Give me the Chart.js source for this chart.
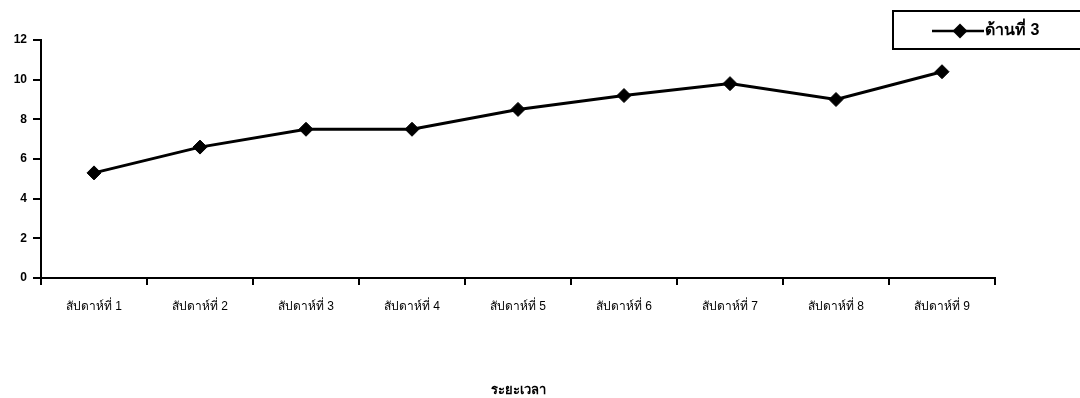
<!DOCTYPE html>
<html>
<head>
<meta charset="utf-8">
<script src="https://cdn.jsdelivr.net/npm/chart.js@4/dist/chart.umd.min.js"></script>
<style>
  html, body { margin: 0; padding: 0; background: #fff; }
  #wrap { width: 1080px; height: 398px; position: relative; }
</style>
</head>
<body>
<div id="wrap"><canvas id="c" width="1080" height="398"></canvas></div>
<script>
// Weekly scores, side 3
const weekLabels = ['สัปดาห์ที่ 1', 'สัปดาห์ที่ 2', 'สัปดาห์ที่ 3', 'สัปดาห์ที่ 4', 'สัปดาห์ที่ 5',
                    'สัปดาห์ที่ 6', 'สัปดาห์ที่ 7', 'สัปดาห์ที่ 8', 'สัปดาห์ที่ 9'];
const side3Values = [5.3, 6.6, 7.5, 7.5, 8.5, 9.2, 9.8, 9.0, 10.4];
const seriesName = 'ด้านที่ 3';
const axisTitle = 'ระยะเวลา';
const yTicks = [0, 2, 4, 6, 8, 10, 12];

const FONT = '"Liberation Sans", Arial, "Noto Sans", sans-serif';

// Boxed legend in the top-right corner
const boxedLegend = {
  id: 'boxedLegend',
  afterDraw(chart) {
    const ctx = chart.ctx;
    const ds = chart.data.datasets[0];
    ctx.save();
    ctx.strokeStyle = '#000';
    ctx.lineWidth = 2;
    ctx.strokeRect(893, 11, 200, 38);
    const ly = 31;
    ctx.lineWidth = 2.5;
    ctx.beginPath();
    ctx.moveTo(932, ly);
    ctx.lineTo(984, ly);
    ctx.stroke();
    const r = 7.5;
    ctx.fillStyle = '#000';
    ctx.beginPath();
    ctx.moveTo(960, ly - r);
    ctx.lineTo(960 + r, ly);
    ctx.lineTo(960, ly + r);
    ctx.lineTo(960 - r, ly);
    ctx.closePath();
    ctx.fill();
    ctx.font = 'bold 16px ' + FONT;
    ctx.textBaseline = 'middle';
    ctx.textAlign = 'left';
    ctx.fillText(ds.label, 985, ly);
    ctx.restore();
  }
};

new Chart(document.getElementById('c'), {
  type: 'line',
  data: {
    labels: weekLabels,
    datasets: [{
      label: seriesName,
      data: side3Values,
      borderColor: '#000',
      backgroundColor: '#000',
      borderWidth: 3,
      pointStyle: 'rectRot',
      pointRadius: 7,
      pointBorderWidth: 1,
      pointBackgroundColor: '#000',
      pointBorderColor: '#000',
      tension: 0,
      fill: false
    }]
  },
  options: {
    responsive: false,
    animation: false,
    layout: { padding: { left: 0, right: 85, top: 40, bottom: 0 } },
    plugins: {
      legend: { display: false },
      tooltip: { enabled: false }
    },
    scales: {
      x: {
        type: 'category',
        offset: true,
        afterFit(scale) { scale.height = 120; },
        border: { display: true, color: '#000', width: 2 },
        grid: {
          offset: true,
          drawOnChartArea: false,
          drawTicks: true,
          tickLength: 7,
          color: '#000',
          lineWidth: 2
        },
        ticks: {
          color: '#000',
          font: { family: FONT, size: 12 },
          padding: 14,
          maxRotation: 0,
          autoSkip: false
        },
        title: {
          display: true,
          text: axisTitle,
          color: '#000',
          font: { family: FONT, size: 13, weight: 'bold' },
          padding: { top: 0, bottom: 0 }
        }
      },
      y: {
        min: 0,
        max: 12,
        afterFit(scale) { scale.width = 41; },
        afterBuildTicks(scale) { scale.ticks = yTicks.map(v => ({ value: v })); },
        border: { display: true, color: '#000', width: 2 },
        grid: {
          drawOnChartArea: false,
          drawTicks: true,
          tickLength: 8,
          color: '#000',
          lineWidth: 2
        },
        ticks: {
          color: '#000',
          font: { family: FONT, size: 12, weight: 'bold' },
          padding: 6
        }
      }
    }
  },
  plugins: [boxedLegend]
});
</script>
</body>
</html>
